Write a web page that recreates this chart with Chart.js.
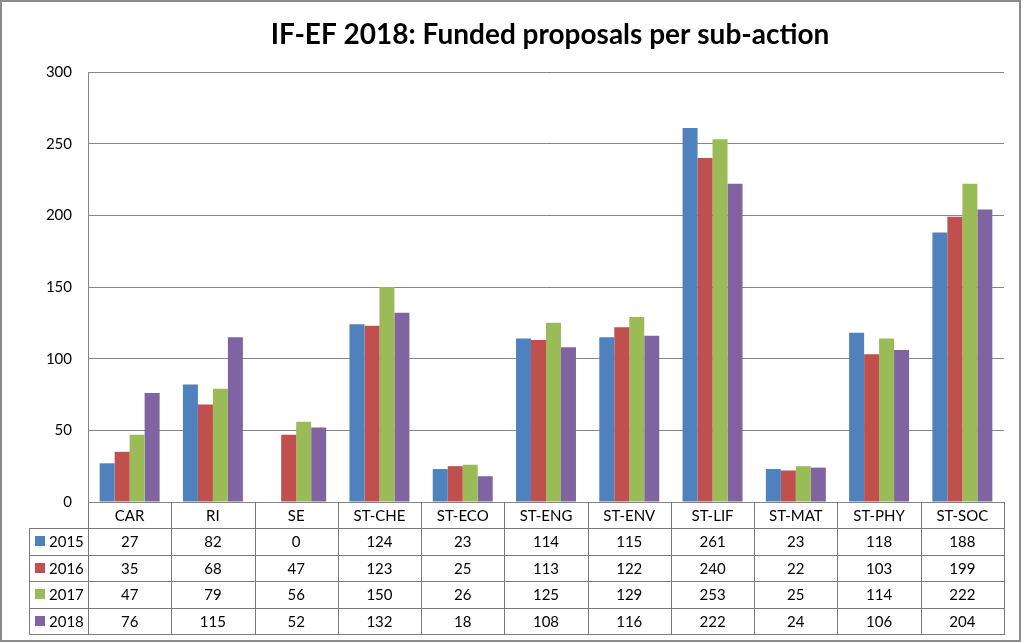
<!DOCTYPE html>
<html>
<head>
<meta charset="utf-8">
<script src="https://cdn.jsdelivr.net/npm/chart.js@4.4.0/dist/chart.umd.min.js"></script>
<style>
  html, body { margin: 0; padding: 0; background: #fff; }
  #wrap { width: 1024px; height: 643px; }
</style>
</head>
<body>
<div id="wrap"><canvas id="grafica" width="1024" height="643"></canvas></div>
<script>
// datos
const categorias = ["CAR", "RI", "SE", "ST-CHE", "ST-ECO", "ST-ENG", "ST-ENV", "ST-LIF", "ST-MAT", "ST-PHY", "ST-SOC"];
const anios = ["2015", "2016", "2017", "2018"];
const v2015 = [27, 82, 0, 124, 23, 114, 115, 261, 23, 118, 188];
const v2016 = [35, 68, 47, 123, 25, 113, 122, 240, 22, 103, 199];
const v2017 = [47, 79, 56, 150, 26, 125, 129, 253, 25, 114, 222];
const v2018 = [76, 115, 52, 132, 18, 108, 116, 222, 24, 106, 204];
const colores = ["#4F81BD", "#C0504D", "#9BBB59", "#8064A2"];
const titulo = "IF-EF 2018: Funded proposals per sub-action";

const series = [v2015, v2016, v2017, v2018];
const FUENTE = "Lato, 'Open Sans', sans-serif";
const GRIS = "#868686";

// titulo + borde exterior
const marcoPlugin = {
  id: "marco",
  afterDraw(chart) {
    const ctx = chart.ctx;
    ctx.save();
    ctx.fillStyle = "#000";
    ctx.font = "bold 28px " + FUENTE;
    ctx.textAlign = "center";
    ctx.textBaseline = "middle";
    ctx.fillText(titulo, 550, 35);
    ctx.strokeStyle = "#8c8c8c";
    ctx.lineWidth = 2;
    ctx.strokeRect(1, 1, 1019, 640);
    ctx.restore();
  }
};

// tabla de datos bajo el eje
const tablaPlugin = {
  id: "tabla",
  afterDraw(chart) {
    const { ctx, chartArea: a, scales: { x } } = chart;
    const w = a.width / categorias.length;
    const top = Math.round(a.bottom);
    const headH = 26, rowH = 26.5, legLeft = 29;
    const bottom = Math.round(top + headH + rowH * anios.length);
    const px = v => Math.round(v) + 0.5;

    ctx.save();
    ctx.strokeStyle = "#7a7a7a";
    ctx.lineWidth = 1;
    ctx.beginPath();
    // verticales
    for (let i = 0; i <= categorias.length; i++) {
      const xx = px(a.left + i * w);
      ctx.moveTo(xx, top);
      ctx.lineTo(xx, bottom);
    }
    ctx.moveTo(px(legLeft), top + headH);
    ctx.lineTo(px(legLeft), bottom);
    // horizontales
    for (let r = 0; r <= anios.length; r++) {
      const yy = px(top + headH + r * rowH);
      ctx.moveTo(legLeft, yy);
      ctx.lineTo(Math.round(a.right) + 1, yy);
    }
    ctx.stroke();

    ctx.fillStyle = "#000";
    ctx.font = "15px " + FUENTE;
    ctx.textBaseline = "middle";
    ctx.textAlign = "center";
    categorias.forEach((c, i) => {
      ctx.fillText(c, x.getPixelForValue(i), top + headH / 2 + 1);
    });
    anios.forEach((an, r) => {
      const cy = top + headH + r * rowH + rowH / 2 + 1;
      series[r].forEach((v, i) => {
        ctx.fillText(String(v), x.getPixelForValue(i), cy);
      });
      ctx.fillStyle = colores[r];
      ctx.fillRect(35, Math.round(cy - 6), 10, 10);
      ctx.fillStyle = "#000";
      ctx.textAlign = "left";
      ctx.fillText(an, 49, cy);
      ctx.textAlign = "center";
    });
    ctx.restore();
  }
};

const ctx = document.getElementById("grafica").getContext("2d");

new Chart(ctx, {
  type: "bar",
  data: {
    labels: categorias,
    datasets: anios.map((an, i) => ({
      label: an,
      data: series[i],
      backgroundColor: colores[i],
      borderWidth: 0,
      categoryPercentage: 0.72,
      barPercentage: 1.0
    }))
  },
  options: {
    responsive: false,
    animation: false,
    layout: { padding: { top: 72, right: 20, bottom: 0, left: 0 } },
    plugins: {
      legend: { display: false },
      title: { display: false },
      tooltip: { enabled: false }
    },
    scales: {
      x: {
        ticks: { display: false },
        grid: { display: false },
        border: { display: false },
        afterFit: s => { s.height = 141; }
      },
      y: {
        min: 0,
        max: 300,
        ticks: { stepSize: 50, color: "#000", padding: 16, font: { family: FUENTE, size: 15 } },
        grid: { color: GRIS, drawTicks: false },
        border: { display: true, color: GRIS },
        afterFit: s => { s.width = 88; }
      }
    }
  },
  plugins: [marcoPlugin, tablaPlugin]
});
</script>
</body>
</html>
